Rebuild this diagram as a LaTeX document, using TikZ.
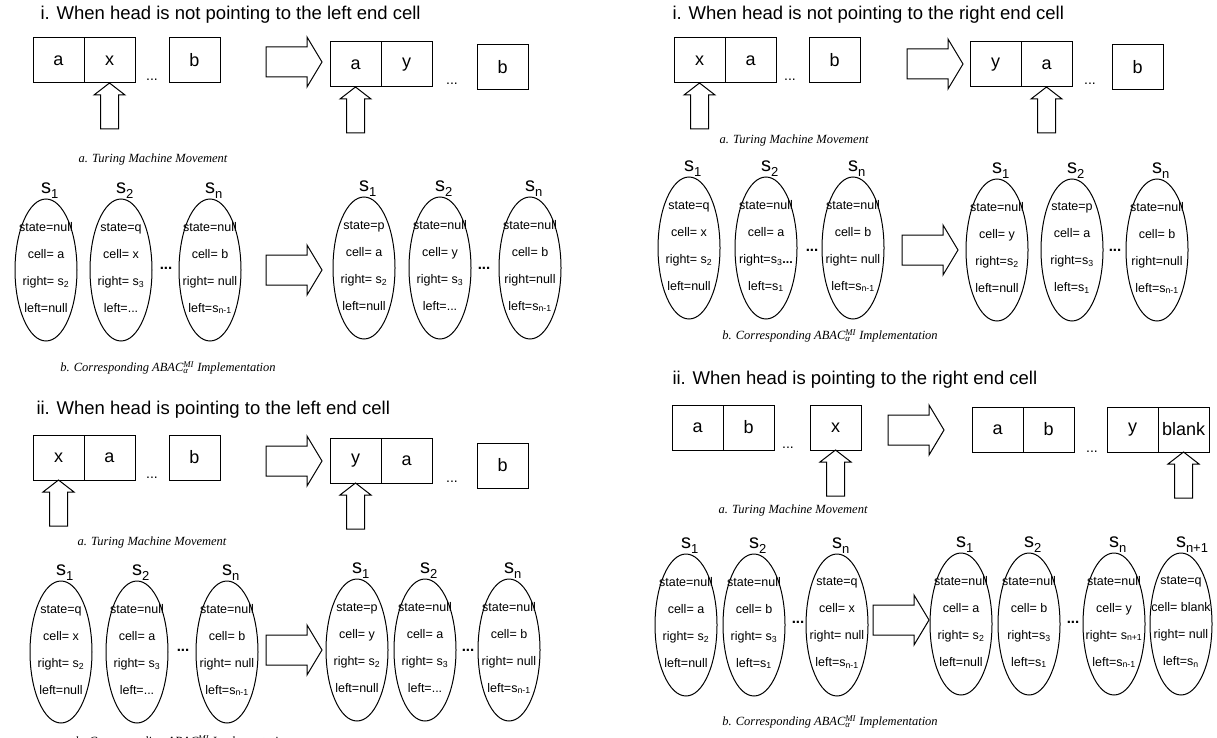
\documentclass[tikz,border=0pt]{standalone}
\usepackage{fontspec}
\setmainfont{Liberation Sans}
\newfontfamily\capfont{Liberation Serif}
\usetikzlibrary{shapes.geometric,positioning}

\newcommand{\sx}[1]{s\textsubscript{#1}}
\newcommand{\abac}{ABAC\rlap{\textsubscript{α}}\textsuperscript{MI}}
\newcommand{\abacobj}[4]{%
	\node[obj] (#1) at (#2) {};
	\node[objtext] (#1t) at ([yshift=2pt]#1.center) {#4};
	\node[slabel] (#1s) at ([yshift=5pt]#1.north) {s\rlap{\raisebox{-5pt}{\fontsize{13}{13}\selectfont #3}}};
}

\tikzset{
	cell/.style={draw, minimum width=51pt, minimum height=45pt, inner sep=0pt, outer sep=0pt, font=\fontsize{18}{18}\selectfont},
	obj/.style={draw, ellipse, minimum width=62pt, minimum height=142pt, inner sep=0pt},
	objtext/.style={align=center, inner sep=0pt, font=\fontsize{12.5}{27}\selectfont},
	slabel/.style={anchor=base, inner sep=0pt, font=\fontsize{20}{20}\selectfont},
	heading/.style={anchor=west, inner sep=0pt, font=\fontsize{18.5}{18.5}\selectfont},
	caption/.style={inner sep=0pt, font=\capfont\itshape\fontsize{12.5}{12.5}\selectfont},
	dots/.style={inner sep=0pt, font=\fontsize{14}{14}\selectfont},
	gap/.style={inner sep=0pt, font=\bfseries\fontsize{15}{15}\selectfont},
	headarrow/.pic={\draw (0,0) -- (15.5,12) -- (9,12) -- (9,46) -- (-9,46) -- (-9,12) -- (-15.5,12) -- cycle;},
	movearrow/.pic={\draw (0,-15) -- (41,-15) -- (41,-25) -- (56,0) -- (41,25) -- (41,15) -- (0,15) -- cycle;}
}

\begin{document}
\begin{tikzpicture}[x=1pt, y=-1pt, line width=1pt]
	\useasboundingbox (0,0) rectangle (1217,738);
	\clip (0,0) rectangle (1217,738);

	\node[heading] (A) at (40,15) {i. When head is not pointing to the left end cell};
	\node[cell, anchor=north west] (A1) at (33,38) {a};
	\node[cell, right=0pt of A1] (A2) {x};
	\node[dots] (A3) at (152,80) {...};
	\node[cell, anchor=north west] (A4) at (169,38) {b};
	\pic at (A2.south) {headarrow};
	\pic at (266,62) {movearrow};
	\node[cell, anchor=north west] (A5) at (330,42) {a};
	\node[cell, right=0pt of A5] (A6) {y};
	\node[dots] (A7) at (452,84) {...};
	\node[cell, anchor=north west] (A8) at (477,45) {b};
	\pic at (A5.south) {headarrow};
	\node[caption] (Aa) at (153,159) {a. Turing Machine Movement};
	\abacobj{As1}{46,270}{1}{state=null\\cell= a\\right= \sx2\\left=null}
	\abacobj{As2}{121,270}{2}{state=q\\cell= x\\right= \sx3\\left=...}
	\node[gap] (Ag1) at (166,268) {...};
	\abacobj{Asn}{210,270}{n}{state=null\\cell= b\\right= null\\left=\sx{n-1}}
	\pic at (266,270) {movearrow};
	\abacobj{Ar1}{364,268}{1}{state=p\\cell= a\\right= \sx2\\left=null}
	\abacobj{Ar2}{440,268}{2}{state=null\\cell= y\\right= \sx3\\left=...}
	\node[gap] (Ag2) at (484,268) {...};
	\abacobj{Arn}{530,268}{n}{state=null\\cell= b\\right=null\\left=\sx{n-1}}
	\node[caption] (Ab) at (168,368) {b. Corresponding \abac\ Implementation};

	\node[heading] (B) at (36,410) {ii. When head is pointing to the left end cell};
	\node[cell, anchor=north west] (B1) at (33,435) {x};
	\node[cell, right=0pt of B1] (B2) {a};
	\node[dots] (B3) at (152,478) {...};
	\node[cell, anchor=north west] (B4) at (169,435) {b};
	\pic at (B1.south) {headarrow};
	\pic at (266,461) {movearrow};
	\node[cell, anchor=north west] (B5) at (330,438) {y};
	\node[cell, right=0pt of B5] (B6) {a};
	\node[dots] (B7) at (452,482) {...};
	\node[cell, anchor=north west] (B8) at (477,443) {b};
	\pic at (B5.south) {headarrow};
	\node[caption] (Ba) at (152,542) {a. Turing Machine Movement};
	\abacobj{Bs1}{61,652}{1}{state=q\\cell= x\\right= \sx2\\left=null}
	\abacobj{Bs2}{137,652}{2}{state=null\\cell= a\\right= \sx3\\left=...}
	\node[gap] (Bg1) at (183,650) {...};
	\abacobj{Bsn}{227,652}{n}{state=null\\cell= b\\right= null\\left=\sx{n-1}}
	\pic at (266,650) {movearrow};
	\abacobj{Br1}{357,650}{1}{state=p\\cell= y\\right= \sx2\\left=null}
	\abacobj{Br2}{425,650}{2}{state=null\\cell= a\\right= \sx3\\left=...}
	\node[gap] (Bg2) at (468,650) {...};
	\abacobj{Brn}{509,650}{n}{state=null\\cell= b\\right= null\\left=\sx{n-1}}
	\node[caption] (Bb) at (183,742) {b. Corresponding \abac\ Implementation};

	\node[heading] (C) at (672,15) {i. When head is not pointing to the right end cell};
	\node[cell, anchor=north west] (C1) at (674,38) {x};
	\node[cell, right=0pt of C1] (C2) {a};
	\node[dots] (C3) at (790,80) {...};
	\node[cell, anchor=north west] (C4) at (809,38) {b};
	\pic at (C1.south) {headarrow};
	\pic at (907,64) {movearrow};
	\node[cell, anchor=north west] (C5) at (970,42) {y};
	\node[cell, right=0pt of C5] (C6) {a};
	\node[dots] (C7) at (1090,84) {...};
	\node[cell, anchor=north west] (C8) at (1112,45) {b};
	\pic at (C6.south) {headarrow};
	\node[caption] (Ca) at (794,140) {a. Turing Machine Movement};
	\abacobj{Cs1}{689,248}{1}{state=q\\cell= x\\right= \sx2\\left=null}
	\abacobj{Cs2}{766,248}{2}{state=null\\cell= a\\right=\sx3\textbf{...}\\left=\sx1}
	\node[gap] (Cg1) at (812,250) {...};
	\abacobj{Csn}{853,248}{n}{state=null\\cell= b\\right= null\\left=\sx{n-1}}
	\pic at (902,250) {movearrow};
	\abacobj{Cr1}{997,250}{1}{state=null\\cell= y\\right=\sx2\\left=null}
	\abacobj{Cr2}{1072,250}{2}{state=p\\cell= a\\right=\sx3\\left=\sx1}
	\node[gap] (Cg2) at (1115,250) {...};
	\abacobj{Crn}{1157,250}{n}{state=null\\cell= b\\right=null\\left=\sx{n-1}}
	\node[caption] (Cb) at (830,336) {b. Corresponding \abac\ Implementation};

	\node[heading] (D) at (672,380) {ii. When head is pointing to the right end cell};
	\node[cell, anchor=north west] (D1) at (672,405) {a};
	\node[cell, right=0pt of D1] (D2) {b};
	\node[dots] (D3) at (788,448) {...};
	\node[cell, anchor=north west] (D4) at (810,405) {x};
	\pic at (D4.south) {headarrow};
	\pic at (888,430) {movearrow};
	\node[cell, anchor=north west] (D5) at (972,407) {a};
	\node[cell, right=0pt of D5] (D6) {b};
	\node[dots] (D7) at (1092,452) {...};
	\node[cell, anchor=north west] (D8) at (1107,407) {y};
	\node[cell, right=0pt of D8] (D9) {blank};
	\pic at (D9.south) {headarrow};
	\node[caption] (Da) at (793,510) {a. Turing Machine Movement};
	\abacobj{Ds1}{686,625}{1}{state=null\\cell= a\\right= \sx2\\left=null}
	\abacobj{Ds2}{754,625}{2}{state=null\\cell= b\\right= \sx3\\left=\sx1}
	\node[gap] (Dg1) at (798,622) {...};
	\abacobj{Dsn}{837,625}{n}{state=q\\cell= x\\right= null\\left=\sx{n-1}}
	\pic at (873,620) {movearrow};
	\abacobj{Dr1}{961,624}{1}{state=null\\cell= a\\right= \sx2\\left=null}
	\abacobj{Dr2}{1029,624}{2}{state=null\\cell= b\\right=\sx3\\left=\sx1}
	\node[gap] (Dg2) at (1073,622) {...};
	\abacobj{Drn}{1114,624}{n}{state=null\\cell= y\\right= \sx{n+1}\\left=\sx{n-1}}
	\abacobj{Drm}{1181,624}{n+1}{state=q\\cell= blank\\right= null\\left=\sx{n}}
	\node[caption] (Db) at (830,722) {b. Corresponding \abac\ Implementation};
\end{tikzpicture}
\end{document}
